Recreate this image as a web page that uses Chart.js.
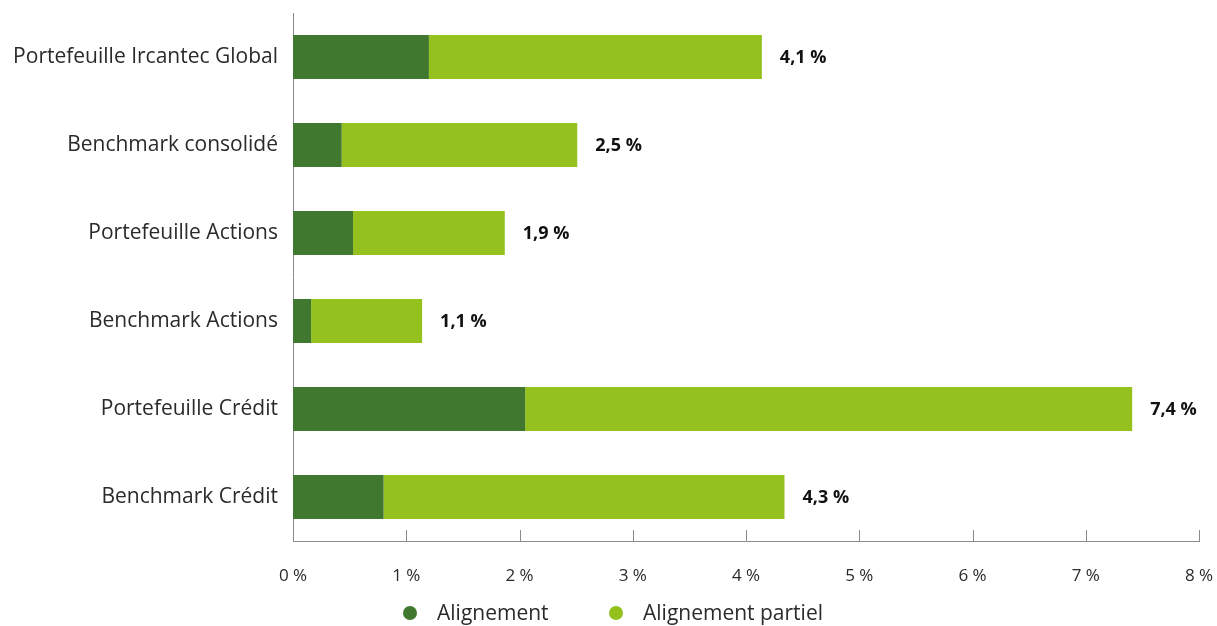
<!DOCTYPE html>
<html>
<head>
<meta charset="utf-8">
<script src="https://cdn.jsdelivr.net/npm/chart.js@4.4.1/dist/chart.umd.min.js"></script>
<style>
  html, body { margin: 0; background: #fff; }
  #wrap { width: 1217px; height: 626px; }
</style>
</head>
<body>
<div id="wrap"><canvas id="chart" width="1217" height="626"></canvas></div>
<script>
// ---- data ----
const categories = [
  "Portefeuille Ircantec Global",
  "Benchmark consolidé",
  "Portefeuille Actions",
  "Benchmark Actions",
  "Portefeuille Crédit",
  "Benchmark Crédit",
];
const alignement = [1.2, 0.43, 0.53, 0.16, 2.05, 0.8];
const alignementPartiel = [2.94, 2.08, 1.34, 0.98, 5.36, 3.54];
const xTicks = [0, 1, 2, 3, 4, 5, 6, 7, 8];
const seriesNames = ["Alignement", "Alignement partiel"];
const seriesColors = ["#41782f", "#95c11f"];

const FONT = "'Open Sans', 'DejaVu Sans', sans-serif";

function pct(v, digits) {
  return v.toFixed(digits).replace(".", ",") + " %";
}

// short tick marks pointing up from the bottom axis
const innerTicks = {
  id: "innerTicks",
  afterDraw(chart) {
    const { ctx, chartArea, scales } = chart;
    ctx.save();
    ctx.strokeStyle = "#8a8a8a";
    ctx.lineWidth = 1;
    xTicks.forEach((t) => {
      const x = Math.round(scales.x.getPixelForValue(t)) + 0.5;
      ctx.beginPath();
      ctx.moveTo(x, chartArea.bottom - 11);
      ctx.lineTo(x, chartArea.bottom);
      ctx.stroke();
    });
    ctx.restore();
  },
};

// bold total at the end of each stacked bar
const totals = {
  id: "totals",
  afterDatasetsDraw(chart) {
    const { ctx } = chart;
    const last = chart.getDatasetMeta(chart.data.datasets.length - 1);
    ctx.save();
    ctx.font = "bold 18px " + FONT;
    ctx.fillStyle = "#111";
    ctx.textAlign = "left";
    ctx.textBaseline = "middle";
    last.data.forEach((bar, i) => {
      const total = alignement[i] + alignementPartiel[i];
      ctx.fillText(pct(total, 1), bar.x + 18, bar.y + 1);
    });
    ctx.restore();
  },
};

// legend with round markers under the axis
const dotLegend = {
  id: "dotLegend",
  afterDraw(chart) {
    const { ctx } = chart;
    const starts = [403, 609];
    const y = 613;
    ctx.save();
    ctx.font = "21px " + FONT;
    ctx.textBaseline = "middle";
    ctx.textAlign = "left";
    chart.data.datasets.forEach((ds, i) => {
      ctx.fillStyle = ds.backgroundColor;
      ctx.beginPath();
      ctx.arc(starts[i] + 7, y, 7, 0, Math.PI * 2);
      ctx.fill();
      ctx.fillStyle = "#2a2a2a";
      ctx.fillText(ds.label, starts[i] + 34, y + 1);
    });
    ctx.restore();
  },
};

new Chart(document.getElementById("chart"), {
  type: "bar",
  data: {
    labels: categories,
    datasets: [
      { label: seriesNames[0], data: alignement, backgroundColor: seriesColors[0] },
      { label: seriesNames[1], data: alignementPartiel, backgroundColor: seriesColors[1] },
    ],
  },
  options: {
    indexAxis: "y",
    responsive: false,
    animation: false,
    layout: { padding: { top: 13, right: 18, bottom: 35, left: 0 } },
    datasets: { bar: { categoryPercentage: 1, barPercentage: 0.5 } },
    plugins: {
      legend: { display: false },
      tooltip: { enabled: false },
    },
    scales: {
      x: {
        stacked: true,
        min: 0,
        max: 8,
        afterBuildTicks(scale) {
          scale.ticks = xTicks.map((v) => ({ value: v }));
        },
        afterFit(scale) {
          scale.height = 50;
          scale.paddingLeft = 0;
          scale.paddingRight = 0;
        },
        grid: { display: false, drawTicks: false },
        border: { display: true, color: "#8a8a8a", width: 1 },
        ticks: {
          padding: 25,
          color: "#2a2a2a",
          font: { family: FONT, size: 17 },
          callback: (v) => v + " %",
        },
      },
      y: {
        stacked: true,
        afterFit(scale) {
          scale.width = 293;
          scale.paddingTop = 0;
          scale.paddingBottom = 0;
        },
        grid: { display: false, drawTicks: false },
        border: { display: true, color: "#8a8a8a", width: 1 },
        ticks: {
          padding: 15,
          color: "#2a2a2a",
          font: { family: FONT, size: 21 },
        },
      },
    },
  },
  plugins: [innerTicks, totals, dotLegend],
});
</script>
</body>
</html>
